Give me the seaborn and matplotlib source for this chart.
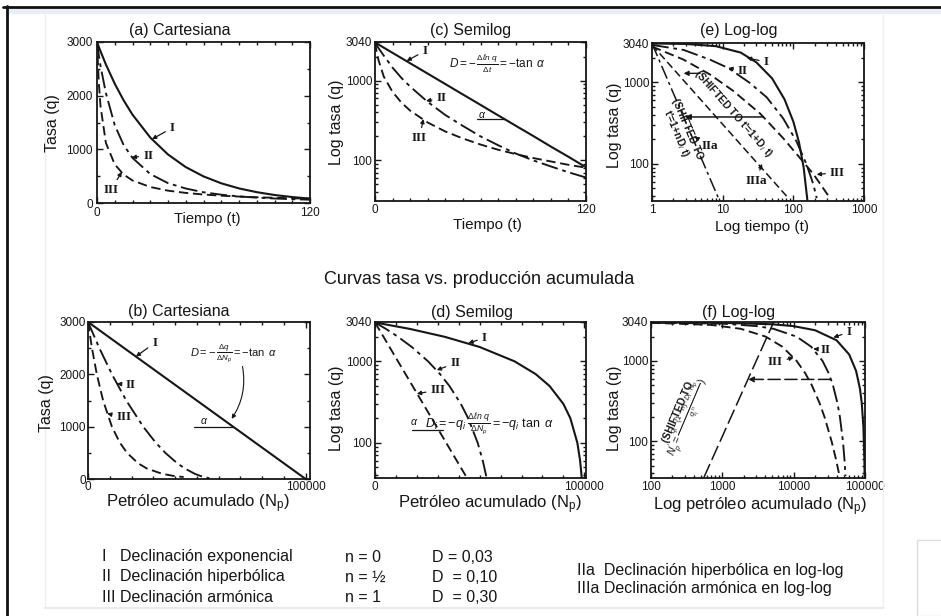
import numpy as np
import pandas as pd
import matplotlib
matplotlib.use("Agg")
import matplotlib.pyplot as plt
import seaborn as sns
from matplotlib.ticker import FixedLocator, MultipleLocator, LogLocator, NullFormatter, FixedFormatter
from matplotlib.lines import Line2D
from matplotlib.patches import Rectangle

# ---------------- data ----------------
# rate vs time (panels a, c)
t_days = [0, 1, 2, 5, 10, 15, 20, 30, 40, 50, 60, 70, 80, 90, 100, 110, 120]
q_I_t = [3000, 2911, 2825, 2582, 2222, 1913, 1646, 1220, 904, 669, 496, 367, 272, 202, 149, 111, 82]
q_II_t = [3000, 2760, 2550, 2050, 1450, 1080, 840, 540, 370, 270, 200, 155, 122, 100, 84, 71, 61]
q_III_t = [3000, 2250, 1800, 1120, 720, 530, 420, 298, 230, 188, 158, 136, 120, 107, 97, 88, 81]

# rate vs time, log-log (panel e)
t_e_I = [1, 3, 8, 18, 30, 50, 75, 100, 120, 140, 158]
q_e_I = [3000, 2960, 2780, 2320, 1760, 1120, 620, 330, 185, 90, 36]
t_e_II = [1, 2.8, 6.6, 12, 24, 42, 72, 111, 154, 192, 214]
q_e_II = [2880, 2500, 1900, 1500, 990, 655, 360, 188, 98, 56, 38]
t_e_III = [1, 2.8, 6.6, 14, 34, 72, 124, 192, 330]
q_e_III = [2750, 1900, 1250, 790, 413, 206, 118, 75, 38]
t_e_IIa = [1, 8.7]
q_e_IIa = [3000, 38]
t_e_IIIa = [1, 85]
q_e_IIIa = [2880, 38]

# rate vs cumulative (panels b, d)
np_I = [0, 16667, 33333, 50000, 66667, 76667, 83333, 90000, 93333, 96667, 98000, 98767, 100000]
q_I_np = [3000, 2500, 2000, 1500, 1000, 700, 500, 300, 200, 100, 60, 37, 0]
np_II = [0, 5230, 11010, 17570, 25360, 31020, 35510, 41030, 44510, 49050, 51510, 53340, 55760]
q_II_np = [3000, 2500, 2000, 1500, 1000, 700, 500, 300, 200, 100, 60, 37, 15]
np_III = [0, 1823, 4055, 6931, 10986, 14553, 17918, 23026, 27081, 34012, 39120, 43954]
q_III_np = [3000, 2500, 2000, 1500, 1000, 700, 500, 300, 200, 100, 60, 37]

# rate vs cumulative, log-log (panel f)
np_f_I = [100, 1000, 5000, 10000, 20000, 40000, 60000, 75000, 85000, 90000, 95000, 98000, 98800]
q_f_I = [2997, 2970, 2850, 2700, 2400, 1800, 1200, 750, 450, 300, 150, 60, 36]
np_f_II = [100, 1008, 3080, 5230, 11010, 17570, 25360, 31020, 35510, 41030, 44510, 49050, 51510, 53340]
q_f_II = [2990, 2900, 2700, 2500, 2000, 1500, 1000, 700, 500, 300, 200, 100, 60, 37]
np_f_III = [100, 690, 1823, 4055, 6931, 10986, 14553, 17918, 23026, 27081, 34012, 39120, 43954]
q_f_III = [2970, 2800, 2500, 2000, 1500, 1000, 700, 500, 300, 200, 100, 60, 37]
np_f_shift = [547, 5250]
q_f_shift = [35, 3040]

legend_rows = ["I   Declinación exponencial", "II  Declinación hiperbólica", "III Declinación armónica"]
legend_n = ["n = 0", "n = ½", "n = 1"]
legend_D = ["D = 0,03", "D  = 0,10", "D  = 0,30"]
legend_log = ["IIa  Declinación hiperbólica en log-log", "IIIa Declinación armónica en log-log"]

# ---------------- style ----------------
sns.set_theme(style="ticks")
INK = "#161616"
plt.rcParams["font.family"] = ["Liberation Sans", "DejaVu Sans"]
plt.rcParams["mathtext.fontset"] = "custom"
plt.rcParams["mathtext.rm"] = "Liberation Sans"
plt.rcParams["mathtext.it"] = "Liberation Sans:italic"
plt.rcParams["mathtext.bf"] = "Liberation Sans:bold"
plt.rcParams["axes.edgecolor"] = INK
plt.rcParams["axes.linewidth"] = 1.3
plt.rcParams["text.color"] = INK

W, H = 941, 616
fig = plt.figure(figsize=(W / 100, H / 100), dpi=100)
fig.patch.set_facecolor("white")


def add_ax(x0, y0, x1, y1):
    return fig.add_axes([x0 / W, 1 - y1 / H, (x1 - x0) / W, (y1 - y0) / H])


def ftxt(x, y, s, **kw):
    kw.setdefault("ha", "center")
    kw.setdefault("va", "center")
    return fig.text(x / W, 1 - y / H, s, **kw)


STY = {
    "I": dict(linestyle="-", lw=1.5),
    "II": dict(linestyle=(0, (9, 2.5, 2, 2.5)), lw=1.35),
    "III": dict(linestyle=(0, (5, 2.5)), lw=1.35),
}


def curve(ax, x, y, key, **extra):
    kw = dict(STY[key])
    kw.update(extra)
    sns.lineplot(x=x, y=y, ax=ax, color=INK, sort=False, estimator=None, **kw)


def style_ax(ax, pad=3):
    ax.tick_params(which="both", direction="in", top=True, right=True,
                   colors=INK, labelsize=8.5, width=1.0, pad=pad)
    ax.tick_params(which="major", length=4)
    ax.tick_params(which="minor", length=2.5)
    for s in ax.spines.values():
        s.set_linewidth(1.3)
        s.set_color(INK)
    ax.set_xlabel("")
    ax.set_ylabel("")


def log_y(ax, lo):
    ax.set_yscale("log")
    ax.set_ylim(lo, 3040)
    ax.yaxis.set_major_locator(FixedLocator([100, 1000, 3040]))
    ax.yaxis.set_major_formatter(FixedFormatter(["100", "1000", "3040"]))
    ax.yaxis.set_minor_locator(LogLocator(base=10, subs=range(2, 10)))
    ax.yaxis.set_minor_formatter(NullFormatter())


ARW = dict(arrowstyle="-|>", color=INK, lw=0.9, mutation_scale=6, shrinkA=1, shrinkB=0)
ROM = dict(fontfamily="Liberation Serif", fontsize=9.5, fontweight="bold", va="center")


def tag(ax, s, xy, xytext, ha="left"):
    ax.annotate(s, xy=xy, xytext=xytext, arrowprops=ARW, ha=ha, **ROM)


# ---------------- panel (a) ----------------
ax = add_ax(97, 42, 310, 203)
curve(ax, t_days, q_I_t, "I")
curve(ax, t_days, q_II_t, "II")
curve(ax, t_days, q_III_t, "III")
ax.set_xlim(0, 120)
ax.set_ylim(0, 3000)
ax.xaxis.set_major_locator(FixedLocator([0, 120]))
ax.xaxis.set_minor_locator(MultipleLocator(10))
ax.yaxis.set_major_locator(FixedLocator([0, 1000, 2000, 3000]))
ax.yaxis.set_minor_locator(MultipleLocator(500))
style_ax(ax)
tag(ax, "I", (31, 1190), (41, 1400))
tag(ax, "II", (19.5, 850), (26, 880))
tag(ax, "III", (14, 580), (3.5, 240))

# ---------------- panel (c) ----------------
ax = add_ax(375, 42, 586, 201)
curve(ax, t_days, q_I_t, "I")
curve(ax, t_days, q_II_t, "II")
curve(ax, t_days, q_III_t, "III")
ax.set_xlim(0, 120)
log_y(ax, 31)
ax.xaxis.set_major_locator(FixedLocator([0, 120]))
ax.xaxis.set_minor_locator(MultipleLocator(10))
style_ax(ax, pad=2)
tag(ax, "I", (18, 1760), (27, 2350))
tag(ax, "II", (29, 555), (35, 600))
tag(ax, "III", (27.5, 330), (21, 190))
ax.text(0.58, 0.865, r"$D=-\,\frac{\Delta \ell n\ q}{\Delta t}=-\tan\ \alpha$",
        transform=ax.transAxes, fontsize=8.5, ha="center", va="center")
sns.lineplot(x=[58, 74], y=[326, 326], ax=ax, color=INK, lw=0.9)
ax.text(61, 365, r"$\alpha$", fontsize=7.5, ha="center", va="center")

# ---------------- panel (e) ----------------
ax = add_ax(652, 43, 864, 201)
curve(ax, t_e_I, q_e_I, "I")
curve(ax, t_e_II, q_e_II, "II")
curve(ax, t_e_III, q_e_III, "III")
curve(ax, t_e_IIa, q_e_IIa, "II", lw=1.1)
curve(ax, t_e_IIIa, q_e_IIIa, "III", lw=1.1)
ax.set_xscale("log")
ax.set_xlim(1, 1000)
log_y(ax, 35)
ax.xaxis.set_major_locator(FixedLocator([1, 10, 100, 1000]))
ax.xaxis.set_major_formatter(FixedFormatter(["1", "10", "100", "1000"]))
ax.xaxis.set_minor_locator(LogLocator(base=10, subs=range(2, 10)))
ax.xaxis.set_minor_formatter(NullFormatter())
style_ax(ax, pad=2)
tag(ax, "I", (22, 2000), (38, 1780))
tag(ax, "II", (12, 1500), (16.5, 1370))
tag(ax, "III", (214, 74), (330, 78))
tag(ax, "IIa", (4.0, 215), (5.0, 165))
tag(ax, "IIIa", (36, 100), (21, 62))
ax.annotate("", xy=(2.93, 376), xytext=(37.6, 376),
            arrowprops=dict(arrowstyle="-|>", color=INK, lw=1.1, mutation_scale=8, shrinkA=0, shrinkB=0))
ax.annotate("", xy=(2.8, 1290), xytext=(4.8, 1290),
            arrowprops=dict(arrowstyle="-|>", color=INK, lw=1.0, mutation_scale=7, shrinkA=0, shrinkB=0))
ax.text(14.1, 413, "(SHIFTED TO t'=1+D$_i$ t)", rotation=-48.7, fontsize=7.5,
        fontweight="bold", ha="center", va="center", rotation_mode="anchor")
ax.text(2.55, 250, "(SHIFTED TO\nt'=1+nD$_i$ t)", rotation=-67, fontsize=7.5,
        fontweight="bold", ha="center", va="center", rotation_mode="anchor", linespacing=1.0)

# ---------------- panel (b) ----------------
ax = add_ax(88, 322, 310, 479)
curve(ax, np_I, q_I_np, "I")
curve(ax, np_II, q_II_np, "II")
curve(ax, np_III, q_III_np, "III")
ax.set_xlim(0, 102000)
ax.set_ylim(0, 3000)
ax.xaxis.set_major_locator(FixedLocator([0, 100000]))
ax.xaxis.set_minor_locator(MultipleLocator(10000))
ax.yaxis.set_major_locator(FixedLocator([0, 1000, 2000, 3000]))
ax.yaxis.set_minor_locator(MultipleLocator(500))
style_ax(ax, pad=1.5)
tag(ax, "I", (22000, 2340), (29500, 2600))
tag(ax, "II", (13300, 1820), (17500, 1800))
tag(ax, "III", (8800, 1250), (13000, 1180))
ax.text(0.655, 0.80, r"$D=-\,\frac{\Delta q}{\Delta N_p}=-\tan\ \alpha$",
        transform=ax.transAxes, fontsize=8, ha="center", va="center")
sns.lineplot(x=[48700, 66700], y=[1000, 1000], ax=ax, color=INK, lw=0.9)
ax.text(53500, 1100, r"$\alpha$", fontsize=7.5, ha="center", va="center")
ax.annotate("", xy=(66000, 1150), xytext=(71000, 2150),
            arrowprops=dict(arrowstyle="-|>", color=INK, lw=0.8, mutation_scale=6,
                            shrinkA=0, shrinkB=0, connectionstyle="arc3,rad=-0.2"))

# ---------------- panel (d) ----------------
ax = add_ax(375, 322, 586, 478)
curve(ax, np_I[:-1], q_I_np[:-1], "I")
curve(ax, np_II, q_II_np, "II")
curve(ax, np_III, q_III_np, "III")
ax.set_xlim(0, 100800)
log_y(ax, 37)
ax.xaxis.set_major_locator(FixedLocator([0, 100000]))
ax.xaxis.set_minor_locator(MultipleLocator(10000))
style_ax(ax, pad=2)
tag(ax, "I", (44600, 1670), (51000, 1940))
tag(ax, "II", (29500, 780), (36000, 950))
tag(ax, "III", (20000, 400), (26500, 445))
sns.lineplot(x=[17500, 32600], y=[144, 144], ax=ax, color=INK, lw=0.9)
ax.text(18800, 178, r"$\alpha$", fontsize=7.5, ha="center", va="center")
ax.text(0.235, 0.345, r"$D_i=-q_i\ \frac{\Delta \ell n\ q}{\Delta N_p}=-q_i\ \tan\ \alpha$",
        transform=ax.transAxes, fontsize=9, ha="left", va="center")

# ---------------- panel (f) ----------------
ax = add_ax(651, 322, 865, 478)
curve(ax, np_f_I, q_f_I, "I")
curve(ax, np_f_II, q_f_II, "II")
curve(ax, np_f_III, q_f_III, "III")
curve(ax, np_f_shift, q_f_shift, "III", lw=1.1, linestyle=(0, (10, 3)))
ax.set_xscale("log")
ax.set_xlim(100, 100000)
log_y(ax, 35)
ax.xaxis.set_major_locator(FixedLocator([100, 1000, 10000, 100000]))
ax.xaxis.set_major_formatter(FixedFormatter(["100", "1000", "10000", "100000"]))
ax.xaxis.set_minor_locator(LogLocator(base=10, subs=range(2, 10)))
ax.xaxis.set_minor_formatter(NullFormatter())
style_ax(ax, pad=2)
tag(ax, "I", (36000, 1950), (55000, 2280))
tag(ax, "II", (18900, 1410), (23500, 1380))
tag(ax, "III", (10000, 1100), (4300, 960))
ax.annotate("", xy=(2300, 588), xytext=(33000, 588),
            arrowprops=dict(arrowstyle="-|>", color=INK, lw=1.1, mutation_scale=8,
                            linestyle=(0, (8, 3)), shrinkA=0, shrinkB=0))
ax.text(240, 230, "(SHIFTED TO", rotation=67, fontsize=7.5, fontweight="bold",
        ha="center", va="center", rotation_mode="anchor")
ax.text(330, 200, r"$N_p'=\frac{q_i-(1-n)\cdot D_i\cdot N_p}{q_i^{\ n}})$", rotation=67,
        fontsize=7.5, ha="center", va="center", rotation_mode="anchor")

# ---------------- titles & axis labels ----------------
for x, y, s in [(180, 31, "(a) Cartesiana"), (471, 30, "(c) Semilog"), (739, 30, "(e) Log-log"),
                (179, 312, "(b) Cartesiana"), (472, 313, "(d) Semilog"), (739, 313, "(f) Log-log")]:
    ftxt(x, y, s, fontsize=11.5)

for x, y, s in [(52, 123, "Tasa (q)"), (337, 122, "Log tasa (q)"), (615, 125, "Log tasa (q)"),
                (46, 403, "Tasa (q)"), (337, 408, "Log tasa (q)"), (615, 408, "Log tasa (q)")]:
    ftxt(x, y, s, fontsize=11.5, rotation=90)

ftxt(207, 219, "Tiempo (t)", fontsize=10.5)
ftxt(487, 225, "Tiempo (t)", fontsize=11)
ftxt(762, 227, "Log tiempo (t)", fontsize=11)
ftxt(198, 504, r"Petróleo acumulado (N$_\mathregular{p}$)", fontsize=12)
ftxt(490, 505, r"Petróleo acumulado (N$_\mathregular{p}$)", fontsize=12)
ftxt(760, 507, r"Log petróleo acumulado (N$_\mathregular{p}$)", fontsize=12)

ftxt(479, 280, "Curvas tasa vs. producción acumulada", fontsize=13)

# ---------------- legend block ----------------
for i, y in enumerate([557, 577, 597]):
    ftxt(102, y, legend_rows[i], fontsize=11.5, ha="left")
    ftxt(345, y, legend_n[i], fontsize=11.5, ha="left")
    ftxt(432, y, legend_D[i], fontsize=11.5, ha="left")
for i, y in enumerate([570, 589]):
    ftxt(577, y, legend_log[i], fontsize=11.5, ha="left")

# ---------------- page frame (screenshot borders) ----------------
def fline(x0, y0, x1, y1, **kw):
    fig.add_artist(Line2D([x0 / W, x1 / W], [1 - y0 / H, 1 - y1 / H], transform=fig.transFigure, **kw))

fig.add_artist(Rectangle((8 / W, 1 - 14 / H), (W - 8) / W, 6 / H, transform=fig.transFigure,
                         facecolor="#e9edf5", edgecolor="none"))
fline(3, 7, W, 7, color="#111111", lw=2.0)
fline(7, 6, 7, H, color="#111111", lw=2.0)
fline(45, 14, 45, 608, color="#efefef", lw=1.0)
fline(883, 14, 883, 608, color="#efefef", lw=1.0)
fline(45, 608, 883, 608, color="#e6e6e6", lw=1.2)
fig.add_artist(Rectangle((917 / W, 0), 30 / W, (H - 540) / H, transform=fig.transFigure,
                         facecolor="white", edgecolor="#dddddd", lw=1.0))

fig.savefig("out.png", dpi=100, facecolor="white")
